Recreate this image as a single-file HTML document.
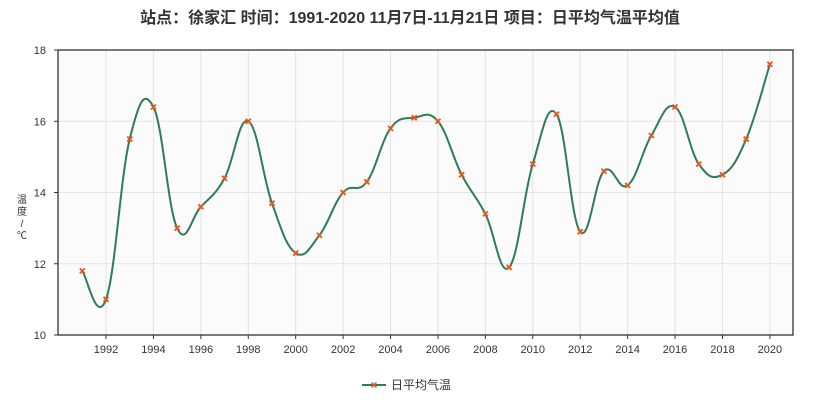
<!DOCTYPE html>
<html><head><meta charset="utf-8"><style>
body{margin:0;background:#fff;width:821px;height:403px;overflow:hidden;font-family:"Liberation Sans","Noto Sans CJK SC",sans-serif}
</style></head><body>
<svg id="s" width="821" height="403" xmlns="http://www.w3.org/2000/svg" font-family="Liberation Sans, Noto Sans CJK SC, sans-serif">
<text x="410" y="23" text-anchor="middle" font-size="16" font-weight="bold" fill="#333">站点：徐家汇 时间：1991-2020  11月7日-11月21日 项目：日平均气温平均值</text>
<rect x="58" y="50" width="735" height="285" fill="#fbfbfb"/>
<g id="grid" stroke="#e3e3e3" stroke-width="1"></g>
<rect x="58" y="50" width="735" height="285" fill="none" stroke="#222" stroke-width="1.2"/>
<g id="lab" font-size="11" fill="#333"></g>
<text x="22" y="203" font-size="10" fill="#333" text-anchor="middle">温</text>
<text x="22" y="215" font-size="10" fill="#333" text-anchor="middle">度</text>
<text x="22" y="227" font-size="10" fill="#333" text-anchor="middle">/</text>
<text x="22" y="239" font-size="10" fill="#333" text-anchor="middle">℃</text>
<path id="curve" fill="none" stroke="#2e7d55" stroke-width="2"/>
<g id="mk" stroke="#e8561c" stroke-width="1.8"></g>
<line x1="362" y1="385" x2="386" y2="385" stroke="#2e7d55" stroke-width="2"/>
<path d="M371.5,382.5l5,5M376.5,382.5l-5,5" stroke="#e8561c" stroke-width="1.5"/>
<text x="391" y="389" font-size="12" fill="#333">日平均气温</text>
</svg>
<script>
var d=[11.8,11.0,15.5,16.4,13.0,13.6,14.4,16.0,13.7,12.3,12.8,14.0,14.3,15.8,16.1,16.0,14.5,13.4,11.9,14.8,16.2,12.9,14.6,14.2,15.6,16.4,14.8,14.5,15.5,17.6];
function X(i){return 82.3+i*23.71}function Y(v){return 335-(v-10)*35.625}
var g=document.getElementById('grid'),l=document.getElementById('lab'),ns='http://www.w3.org/2000/svg';
function el(p,t,a,txt){var e=document.createElementNS(ns,t);for(var k in a)e.setAttribute(k,a[k]);if(txt)e.textContent=txt;p.appendChild(e);return e}
for(var v=10;v<=18;v+=2){var y=Y(v);if(v>10&&v<18)el(g,'line',{x1:58,x2:793,y1:y,y2:y});el(l,'text',{x:46,y:y+4,'text-anchor':'end'},v);el(l,'line',{x1:54,x2:58,y1:y,y2:y,stroke:'#333'});}
for(var yr=1992;yr<=2020;yr+=2){var x=X(yr-1991);el(g,'line',{x1:x,x2:x,y1:50,y2:335});el(l,'text',{x:x,y:353,'text-anchor':'middle'},yr);el(l,'line',{x1:x,x2:x,y1:335,y2:339,stroke:'#333'});}
var p=d.map(function(v,i){return[X(i),Y(v)]});
var s='M'+p[0][0]+','+p[0][1];
for(var i=0;i<p.length-1;i++){var p0=p[i-1]||p[i],p1=p[i],p2=p[i+1],p3=p[i+2]||p2;
var t=1/5;s+='C'+(p1[0]+(p2[0]-p0[0])*t)+','+(p1[1]+(p2[1]-p0[1])*t)+' '+(p2[0]-(p3[0]-p1[0])*t)+','+(p2[1]-(p3[1]-p1[1])*t)+' '+p2[0]+','+p2[1];}
document.getElementById('curve').setAttribute('d',s);
var m=document.getElementById('mk');p.forEach(function(q){el(m,'path',{d:'M'+(q[0]-2.5)+','+(q[1]-2.5)+'l5,5M'+(q[0]+2.5)+','+(q[1]-2.5)+'l-5,5'})});
</script>
</body></html>
